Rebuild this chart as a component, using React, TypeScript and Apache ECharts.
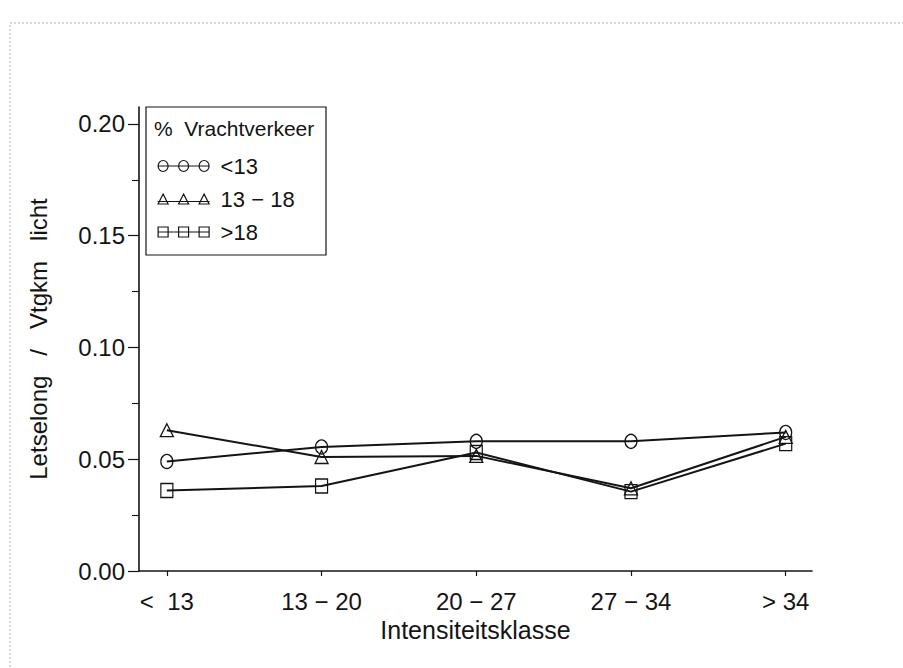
import React, { useEffect, useRef } from "react";
import * as echarts from "echarts";

const categories = ["<  13", "13 − 20", "20 − 27", "27 − 34", "> 34"];
const categoryPositions = [0, 1, 2, 3, 4];
const seriesNames = ["<13", "13 − 18", ">18"];
const under13 = [0.049, 0.0555, 0.058, 0.058, 0.062];
const from13to18 = [0.063, 0.051, 0.0515, 0.037, 0.06];
const over18 = [0.036, 0.038, 0.053, 0.0355, 0.057];
const yTicks = [0, 0.05, 0.1, 0.15, 0.2];
const yMinorTicks = [0.025, 0.075, 0.125, 0.175];
const legendTitle = "%  Vrachtverkeer";
const xTitle = "Intensiteitsklasse";
const yTitle = "Letselong   /   Vtgkm   licht";

const FONT = "'Liberation Sans', Arial, Helvetica, sans-serif";
const INK = "#141414";

const circleIcon =
  "path://M0 6 L52 6 M0.5 6 a5 5.5 0 1 0 10 0 a5 5.5 0 1 0 -10 0 M21 6 a5 5.5 0 1 0 10 0 a5 5.5 0 1 0 -10 0 M41.5 6 a5 5.5 0 1 0 10 0 a5 5.5 0 1 0 -10 0";
const triangleIcon =
  "path://M0 8 L52 8 M5.5 0.5 L10.5 10.5 L0.5 10.5 Z M26 0.5 L31 10.5 L21 10.5 Z M46.5 0.5 L51.5 10.5 L41.5 10.5 Z";
const squareIcon =
  "path://M0 6 L52 6 M0.5 1 L10.5 1 L10.5 11 L0.5 11 Z M21 1 L31 1 L31 11 L21 11 Z M41.5 1 L51.5 1 L51.5 11 L41.5 11 Z";
const icons = [circleIcon, triangleIcon, squareIcon];
const symbols = ["circle", "triangle", "rect"];
const seriesValues = [under13, from13to18, over18];

export default function App() {
  const ref = useRef<HTMLDivElement>(null);

  useEffect(() => {
    if (!ref.current) return;
    const chart = echarts.init(ref.current, undefined, { renderer: "svg" });
    const option: any = {
      animation: false,
      backgroundColor: "#ffffff",
      grid: { left: 139, right: 91, top: 107, bottom: 97 },
      xAxis: {
        type: "value",
        min: -0.18,
        max: 4.17,
        axisLine: { show: true, onZero: false, lineStyle: { color: INK, width: 1.6 } },
        axisTick: {
          show: true,
          customValues: categoryPositions,
          length: 5,
          lineStyle: { color: INK, width: 1.2 },
        },
        axisLabel: {
          customValues: categoryPositions,
          formatter: (v: number) => categories[Math.round(v)] ?? "",
          margin: 18,
          fontFamily: FONT,
          fontSize: 24,
          color: INK,
        },
        splitLine: { show: false },
        name: xTitle,
        nameLocation: "middle",
        nameGap: 44,
        nameTextStyle: { fontFamily: FONT, fontSize: 25, color: INK },
      },
      yAxis: [
        {
          type: "value",
          min: 0,
          max: 0.2076,
          axisLine: { show: true, onZero: false, lineStyle: { color: INK, width: 1.6 } },
          axisTick: {
            show: true,
            customValues: yTicks,
            length: 11,
            lineStyle: { color: INK, width: 1.2 },
          },
          axisLabel: {
            customValues: yTicks,
            formatter: (v: number) => v.toFixed(2),
            margin: 14,
            fontFamily: FONT,
            fontSize: 24,
            color: INK,
          },
          splitLine: { show: false },
          name: yTitle,
          nameLocation: "middle",
          nameGap: 89,
          nameTextStyle: { fontFamily: FONT, fontSize: 24, color: INK },
        },
        {
          type: "value",
          min: 0,
          max: 0.2076,
          position: "left",
          axisLine: { show: false, onZero: false },
          axisTick: {
            show: true,
            customValues: yMinorTicks,
            length: 7,
            lineStyle: { color: INK, width: 1.1 },
          },
          axisLabel: { show: false },
          splitLine: { show: false },
        },
      ],
      legend: {
        orient: "vertical",
        left: 152,
        top: 150,
        itemWidth: 52,
        itemHeight: 11,
        itemGap: 11,
        selectedMode: false,
        data: seriesNames.map((n, i) => ({ name: n, icon: icons[i] })),
        itemStyle: { color: "transparent", borderColor: INK, borderWidth: 1.2 },
        textStyle: {
          fontFamily: FONT,
          fontSize: 22,
          lineHeight: 22,
          color: INK,
          padding: [0, 0, 0, 6],
        },
      },
      graphic: [
        {
          type: "rect",
          silent: true,
          shape: { x: 10, y: 23, width: 940, height: 720 },
          style: { fill: "none", stroke: "#b5b5b5", lineWidth: 1, lineDash: [2, 2] },
          z: 0,
        },
        {
          type: "rect",
          silent: true,
          shape: { x: 146, y: 107, width: 180, height: 148 },
          style: { fill: "#fff", stroke: INK, lineWidth: 1.2 },
          z: 1,
        },
        {
          type: "text",
          silent: true,
          x: 154,
          y: 128,
          style: {
            text: legendTitle,
            fontFamily: FONT,
            fontSize: 21,
            fill: INK,
            verticalAlign: "middle",
          },
          z: 2,
        },
      ],
      series: seriesValues.map((vals, i) => ({
        name: seriesNames[i],
        type: "line",
        yAxisIndex: 0,
        data: vals.map((v, j) => [categoryPositions[j], v]),
        symbol: symbols[i],
        symbolSize: i === 1 ? [13, 13] : [12, 14],
        showSymbol: true,
        lineStyle: { color: INK, width: 2 },
        itemStyle: { color: "transparent", borderColor: INK, borderWidth: 1.3 },
        z: 3 + i,
      })),
    };
    chart.setOption(option);
    return () => chart.dispose();
  }, []);

  return (
    <div
      ref={ref}
      style={{ position: "absolute", left: 0, top: 0, width: 903, height: 668 }}
    />
  );
}
